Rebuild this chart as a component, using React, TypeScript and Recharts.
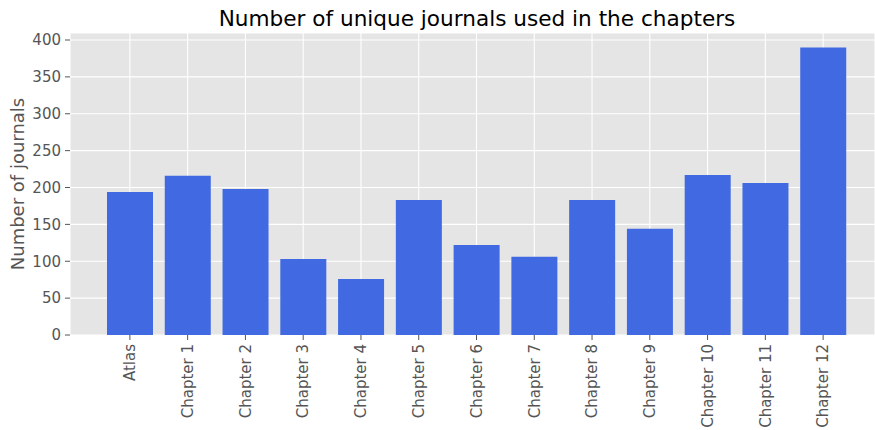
import { Bar, BarChart, CartesianGrid, XAxis, YAxis } from "recharts"

// chapters and journal counts
const categories = [
  "Atlas",
  "Chapter 1",
  "Chapter 2",
  "Chapter 3",
  "Chapter 4",
  "Chapter 5",
  "Chapter 6",
  "Chapter 7",
  "Chapter 8",
  "Chapter 9",
  "Chapter 10",
  "Chapter 11",
  "Chapter 12",
]
const journalCounts = [194, 216, 198, 103, 76, 183, 122, 106, 183, 144, 217, 206, 390]
const yTicks = [0, 50, 100, 150, 200, 250, 300, 350, 400]

const data = categories.map((name, i) => ({ name, journals: journalCounts[i] }))

const FONT = "DejaVu Sans, sans-serif"

function RotatedTick(props: any) {
  const { x, y, payload } = props
  return (
    <g transform={`translate(${x},${y})`}>
      <text
        transform="rotate(-90)"
        textAnchor="end"
        dy="0.35em"
        fill="#555555"
        fontSize={15}
        fontFamily={FONT}
      >
        {payload.value}
      </text>
    </g>
  )
}

export default function App() {
  return (
    <div style={{ position: "absolute", left: 0, top: 0, background: "#fff" }}>
      <BarChart
        width={875}
        height={430}
        data={data}
        margin={{ top: 33, right: 0, bottom: 0, left: 0 }}
        barSize={46}
      >
        <text x={477} y={26} textAnchor="middle" fontSize={21.6} fontFamily={FONT} fill="#000">
          Number of unique journals used in the chapters
        </text>
        <CartesianGrid fill="#E5E5E5" stroke="#ffffff" strokeWidth={1.1} />
        <XAxis
          dataKey="name"
          interval={0}
          height={95}
          padding={{ left: 31, right: 23 }}
          axisLine={false}
          tickLine={{ stroke: "#555555" }}
          tickSize={5}
          tickMargin={4}
          tick={<RotatedTick />}
        />
        <YAxis
          width={70}
          domain={[0, 409.5]}
          ticks={yTicks}
          axisLine={false}
          tickLine={{ stroke: "#555555" }}
          tickSize={5}
          tickMargin={4}
          tick={{ fill: "#555555", fontSize: 15, fontFamily: FONT }}
          label={{
            content: () => (
              <text
                x={24}
                y={184}
                transform="rotate(-90,24,184)"
                textAnchor="middle"
                fontSize={18}
                fontFamily={FONT}
                fill="#555555"
              >
                Number of journals
              </text>
            ),
          }}
        />
        <Bar dataKey="journals" fill="#4169E1" isAnimationActive={false} />
      </BarChart>
    </div>
  )
}
